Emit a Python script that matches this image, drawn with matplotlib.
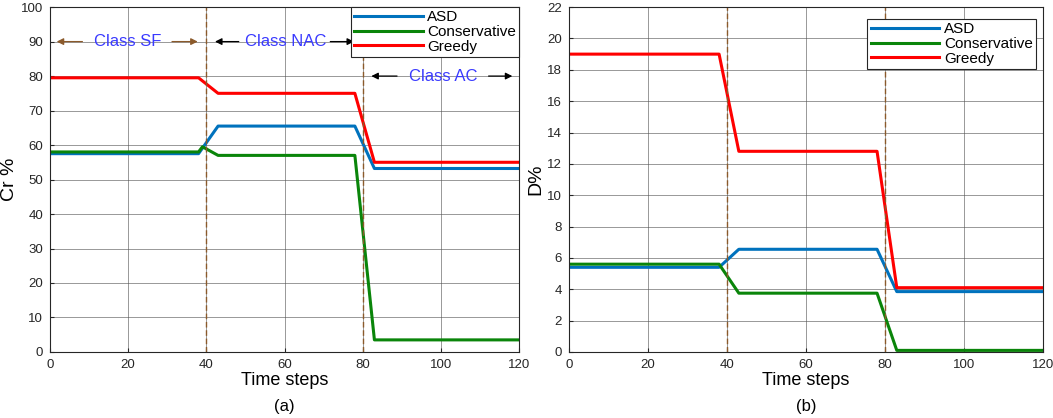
import matplotlib.pyplot as plt

plt.rcParams['font.family'] = ['Liberation Sans', 'DejaVu Sans']

# time-step breakpoints of the piecewise lines
t = [0, 38, 43, 78, 83, 120]
t_cons_a = [0, 38, 39, 43, 78, 83, 120]

# (a) Cr %
cr_asd = [57.5, 57.5, 65.5, 65.5, 53.2, 53.2]
cr_cons = [58, 58, 59.5, 57, 57, 3.5, 3.5]
cr_greedy = [79.5, 79.5, 75, 75, 55, 55]

# (b) D %
d_asd = [5.4, 5.4, 6.55, 6.55, 3.85, 3.85]
d_cons = [5.6, 5.6, 3.75, 3.75, 0.1, 0.1]
d_greedy = [19, 19, 12.8, 12.8, 4.1, 4.1]

blue = '#0072bd'
green = '#0a850a'
red = '#ff0000'
brown = '#8b5a2b'
txt_blue = '#3a3aff'

fig = plt.figure(figsize=(10.53, 4.18), dpi=100)
ax1 = fig.add_axes([0.0475, 0.158, 0.4454, 0.825])
ax2 = fig.add_axes([0.5404, 0.158, 0.450, 0.825])


def style(ax, ymax, ystep):
    ax.set_xlim(0, 120)
    ax.set_ylim(0, ymax)
    ax.set_xticks(range(0, 121, 20))
    ax.set_yticks(range(0, ymax + 1, ystep))
    ax.grid(True, color='#555555', linewidth=0.6, alpha=0.7)
    ax.tick_params(labelsize=9.5, colors='#262626', direction='in', length=3, pad=5)
    for s in ax.spines.values():
        s.set_color('#262626')
        s.set_linewidth(0.8)
    for xv in (40, 80):
        ax.axvline(xv, color=brown, linestyle=(0, (4, 2)), linewidth=1.0)
    ax.set_xlabel('Time steps', fontsize=13, labelpad=1)


ax1.plot(t, cr_asd, color=blue, lw=2.2, label='ASD')
ax1.plot(t_cons_a, cr_cons, color=green, lw=2.2, label='Conservative')
ax1.plot(t, cr_greedy, color=red, lw=2.2, label='Greedy')
style(ax1, 100, 10)
ax1.set_ylabel('Cr %', fontsize=14, labelpad=2)
ax1.text(0.5, -0.157, '(a)', transform=ax1.transAxes, ha='center', va='center', fontsize=12)

# class annotations
ax1.annotate('', xy=(1, 90), xytext=(9, 90),
             arrowprops=dict(arrowstyle='-|>', color=brown, lw=0.9))
ax1.annotate('', xy=(38.5, 90), xytext=(30.5, 90),
             arrowprops=dict(arrowstyle='-|>', color=brown, lw=0.9))
ax1.text(19.8, 90, 'Class SF', color=txt_blue, fontsize=12, ha='center', va='center')
ax1.annotate('', xy=(41.5, 90), xytext=(49, 90),
             arrowprops=dict(arrowstyle='-|>', color='black', lw=0.9))
ax1.annotate('', xy=(78.5, 90), xytext=(71, 90),
             arrowprops=dict(arrowstyle='-|>', color='black', lw=0.9))
ax1.text(60.3, 90, 'Class NAC', color=txt_blue, fontsize=12, ha='center', va='center')
ax1.annotate('', xy=(81.5, 80), xytext=(89.5, 80),
             arrowprops=dict(arrowstyle='-|>', color='black', lw=0.9))
ax1.annotate('', xy=(119, 80), xytext=(111.5, 80),
             arrowprops=dict(arrowstyle='-|>', color='black', lw=0.9))
ax1.text(100.5, 80, 'Class AC', color=txt_blue, fontsize=12, ha='center', va='center')

ax2.plot(t, d_asd, color=blue, lw=2.2, label='ASD')
ax2.plot(t, d_cons, color=green, lw=2.2, label='Conservative')
ax2.plot(t, d_greedy, color=red, lw=2.2, label='Greedy')
style(ax2, 22, 2)
ax2.set_ylabel('D%', fontsize=14, labelpad=2)
ax2.text(0.5, -0.157, '(b)', transform=ax2.transAxes, ha='center', va='center', fontsize=12)

for ax, loc in ((ax1, (1.0, 1.0)), (ax2, (0.985, 0.965))):
    leg = ax.legend(loc='upper right', bbox_to_anchor=loc, fontsize=11,
                    frameon=True, fancybox=False, borderaxespad=0,
                    handlelength=4.5, handletextpad=0.3, labelspacing=0.05,
                    borderpad=0.2)
    leg.get_frame().set_edgecolor('#262626')
    leg.get_frame().set_linewidth(0.8)
    leg.get_frame().set_alpha(1)

fig.savefig('out.png', dpi=100)
